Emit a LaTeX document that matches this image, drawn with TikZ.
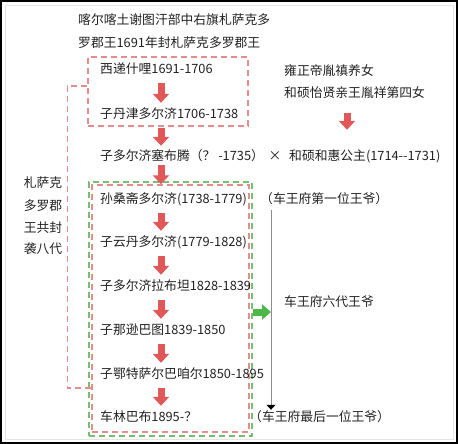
\documentclass[tikz,border=0pt]{standalone}
\usepackage{fontspec}
\setmainfont{Noto Sans CJK SC}
\usetikzlibrary{arrows.meta}
\definecolor{txt}{HTML}{222222}
\definecolor{boxred}{HTML}{E58C8C}
\definecolor{arrred}{HTML}{E05858}
\definecolor{boxgreen}{HTML}{72C072}
\definecolor{arrgreen}{HTML}{4DB848}
\definecolor{linegray}{HTML}{8C8C8C}
\begin{document}
\begin{tikzpicture}[x=1pt,y=-1pt,
  lbl/.style={font=\fontsize{12.8}{14}\selectfont, text=txt, inner sep=0pt, text height=9pt, text depth=3pt, anchor=west},
  sidelbl/.style={lbl, anchor=center},
  redbox/.style={draw=boxred, dash pattern=on 6pt off 4pt, line width=1.4pt, inner sep=0pt},
  greenbox/.style={draw=boxgreen, dash pattern=on 6pt off 4pt, line width=1.4pt, inner sep=0pt},
  reddash/.style={draw=boxred, dash pattern=on 6pt off 4pt, line width=1.4pt},
  redarrow/.style={draw=arrred, line width=7pt, -{Triangle[width=16pt,length=9pt]}},
  greenarrow/.style={draw=arrgreen, line width=7pt, -{Triangle[width=15pt,length=9pt]}},
  grayline/.style={draw=linegray, line width=0.8pt, -{Triangle[width=9pt,length=5pt,color=black]}}
]
\useasboundingbox (0,0) rectangle (458,444);
\fill[white] (0,0) rectangle (458,444);
\draw[gray!20, line width=0.6pt] (5,5) rectangle (453,439);
\draw[black, line width=2pt] (1,1) rectangle (457,443);

% header
\node[lbl] (t1) at (78,22) {喀尔喀土谢图汗部中右旗札萨克多};
\node[lbl] (t2) at (78,45) {罗郡王1691年封札萨克多罗郡王};

% first box
\node[redbox, minimum width=160pt, minimum height=69pt] (box1) at (168,91.5) {};
\node[lbl] (n1) at (100,71) {西递什哩1691-1706};
\node[lbl] (n2) at (100,115) {子丹津多尔济1706-1738};
\node[lbl] (n3) at (100,157) {子多尔济塞布腾（？ -1735）};
\node[sidelbl] (x) at (275,157) {×};
\node[lbl] (wife) at (289,157) {和硕和惠公主(1714\mbox{-}\mbox{-}1731)};
\node[lbl] (w1) at (284,72) {雍正帝胤禛养女};
\node[lbl] (w2) at (284,94) {和硕怡贤亲王胤祥第四女};

% second boxes
\node[greenbox, minimum width=163pt, minimum height=254pt] (gbox) at (170.5,309) {};
\node[redbox, minimum width=157pt, minimum height=247pt] (box2) at (170.5,308.5) {};
\node[lbl] (g1) at (100,200) {孙桑斋多尔济(1738-1779)};
\node[lbl] (g2) at (100,243) {子云丹多尔济(1779-1828)};
\node[lbl] (g3) at (100,287) {子多尔济拉布坦1828-1839};
\node[lbl] (g4) at (100,331) {子那逊巴图1839-1850};
\node[lbl] (g5) at (100,375) {子鄂特萨尔巴咱尔1850-1895};
\node[lbl] (g6) at (100,418) {车林巴布1895-？};

% right notes
\node[lbl] (c1) at (260,200) {（车王府第一位王爷）};
\node[lbl] (c2) at (284,303) {车王府六代王爷};
\node[lbl] (c3) at (249,418) {（车王府最后一位王爷）};

% left side label
\node[sidelbl] (s1) at (43,184) {札萨克};
\node[sidelbl] (s2) at (43,207) {多罗郡};
\node[sidelbl] (s3) at (43,229) {王共封};
\node[sidelbl] (s4) at (43,250) {袭八代};

% connectors
\coordinate (ax) at (161,0);
\coordinate (wx) at (347,0);
\coordinate (gx) at (271,0);
\draw[redarrow] ([yshift=-6pt]n1.south -| ax) -- ([yshift=6pt]n2.north -| ax);
\draw[redarrow] ([yshift=-7pt]n2.south -| ax) -- ([yshift=5pt]n3.north -| ax);
\draw[redarrow] ([yshift=-2pt]n3.south -| ax) -- ([yshift=-3pt]gbox.north -| ax);
\draw[redarrow] ([yshift=-7pt]g1.south -| ax) -- ([yshift=6pt]g2.north -| ax);
\draw[redarrow] ([yshift=-7pt]g2.south -| ax) -- ([yshift=6pt]g3.north -| ax);
\draw[redarrow] ([yshift=-7pt]g3.south -| ax) -- ([yshift=6pt]g4.north -| ax);
\draw[redarrow] ([yshift=-7pt]g4.south -| ax) -- ([yshift=6pt]g5.north -| ax);
\draw[redarrow] ([yshift=-7pt]g5.south -| ax) -- ([yshift=6pt]g6.north -| ax);
\draw[redarrow] ([yshift=-13pt]w2.south -| wx) -- ([yshift=21pt]wife.north -| wx);

\draw[reddash] ([yshift=5.5pt]box1.west) -- ++(-20,0) |- ([yshift=-79.5pt]box2.west);
\draw[grayline] ([yshift=-4pt]c1.south -| gx) -- ([yshift=2pt]c3.north -| gx);
\draw[greenarrow] ([yshift=-3pt]gbox.east) -- ([yshift=-3pt]gbox.east -| gx);
\end{tikzpicture}
\end{document}
